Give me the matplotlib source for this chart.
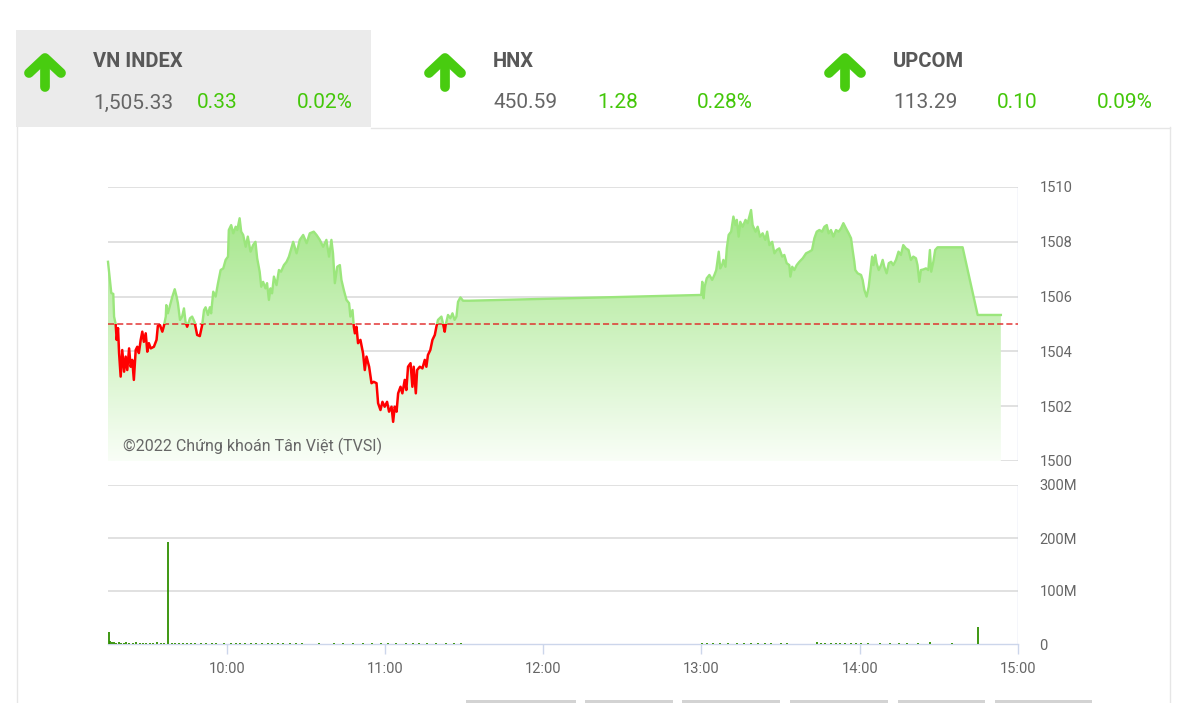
import matplotlib
matplotlib.use("Agg")
import matplotlib.pyplot as plt
import numpy as np
from matplotlib.patches import Rectangle, Polygon
from matplotlib.colors import LinearSegmentedColormap

# --- index summary (header) ---
index_names = ["VN INDEX", "HNX", "UPCOM"]
index_values = ["1,505.33", "450.59", "113.29"]
index_changes = ["0.33", "1.28", "0.10"]
index_pcts = ["0.02%", "0.28%", "0.09%"]

ref_price = 1505.00

# --- intraday VN-Index, minutes after 09:00 ---
price_minutes = [
    15.0, 16.25, 17.0, 17.3, 17.9, 18.3, 18.8, 19.2, 19.8, 20.4, 21.1, 21.7, 22.3, 23.0,
    23.6, 24.2, 24.8, 25.5, 26.1, 26.7, 27.4, 28.0, 28.6, 29.3, 29.9, 30.5, 31.2, 32.4,
    33.4, 33.9, 34.7, 35.6, 36.2, 36.9, 37.1, 37.7, 38.75, 39.4, 40.3, 41.0, 41.5, 42.3,
    43.1, 43.8, 44.4, 45.0, 46.1, 46.9, 47.8, 48.8, 49.8, 50.7, 51.4, 52.0, 52.9, 53.6,
    54.1, 54.9, 55.8, 56.7, 57.7, 58.7, 59.6, 60.5, 60.8, 61.7, 62.5, 63.4, 64.0, 64.9,
    65.5, 66.25, 67.2, 68.0, 69.05, 70.0, 70.9, 71.55, 72.5, 73.1, 73.8, 74.7, 75.3, 76.0,
    76.6, 77.2, 77.9, 78.9, 79.8, 80.6, 81.7, 82.7, 83.6,
    85.2, 86.5, 87.7, 89.0, 90.3, 91.5, 93.0, 94.05, 95.3, 96.55, 97.8, 98.8, 99.7, 100.3,
    101.0, 101.9, 102.9, 103.5, 104.4, 105.4, 106.4, 106.9, 107.7, 108.2, 108.6, 109.2,
    109.8, 110.7, 111.7, 112.35, 113.0, 114.0, 114.9, 115.75, 116.8, 117.4, 118.3, 119.05,
    119.9, 120.8, 121.55, 122.5, 123.1, 123.7, 124.4, 125.0, 125.9, 126.6, 127.5, 128.1,
    128.75, 129.7, 130.4, 130.9, 131.7, 132.2, 133.2, 134.2, 135.1, 135.7, 136.3, 137.2,
    138.0, 138.9, 139.5, 140.1, 141.4, 142.0, 142.65, 143.0, 143.9, 144.8, 145.6, 146.4,
    147.1, 147.7, 148.6, 149.6, 152.1,
    239.9, 240.3, 240.8, 241.2, 242.0, 243.0, 244.05, 244.9, 245.6, 246.55, 247.1, 247.8,
    248.3, 249.1, 249.6, 250.3, 251.25, 252.1, 252.9, 253.4, 254.1, 254.7, 255.6, 256.7,
    257.5, 258.8, 259.4, 260.5, 261.3, 262.2, 263.2, 264.2, 264.9, 265.75, 266.8, 267.65,
    268.5, 269.5, 270.6, 271.4, 272.3, 273.3, 273.7, 274.4, 275.2, 276.1, 277.1, 278.4,
    279.65, 280.9, 281.9, 282.8, 283.7, 284.7, 285.7, 286.6, 287.5, 288.2, 289.1, 290.0,
    291.0, 292.0, 292.9, 293.8, 294.8, 295.8, 296.7, 297.3, 297.95, 298.3, 299.2, 300.5,
    301.1, 301.75, 302.6, 303.4, 303.9, 304.7, 305.2, 305.9, 306.4, 307.2, 308.1, 308.7,
    309.3, 310.2, 311.0, 311.9, 312.7, 313.75, 314.7, 315.6, 316.5, 317.5, 318.5, 319.4,
    320.3, 321.3, 321.9, 322.6, 323.2, 324.1, 325.1, 326.0, 326.6, 327.1, 327.9, 328.6,
    329.5, 339.0, 344.7, 353.5,
]
price_values = [
    1507.27, 1506.13, 1506.10, 1505.27, 1505.00, 1504.42, 1504.85, 1503.94, 1503.08, 1504.05,
    1503.26, 1503.81, 1503.32, 1504.11, 1503.44, 1503.69, 1502.96, 1504.05, 1504.17, 1503.94,
    1504.42, 1504.72, 1504.35, 1504.66, 1503.99, 1504.30, 1504.11, 1504.17, 1504.42, 1504.93,
    1504.96, 1504.72, 1504.93, 1505.27, 1505.69, 1505.39, 1505.76, 1506.00, 1506.27, 1506.00,
    1505.76, 1505.15, 1505.27, 1505.57, 1505.08, 1504.90, 1505.21, 1505.27, 1505.08, 1504.60,
    1504.56, 1504.96, 1505.51, 1505.61, 1505.33, 1505.61, 1505.39, 1506.18, 1506.00, 1506.49,
    1506.97, 1507.03, 1507.34, 1507.46, 1508.43, 1508.61, 1508.31, 1508.55, 1508.43, 1508.86,
    1508.37, 1508.25, 1507.82, 1508.19, 1507.64, 1507.88, 1508.00, 1507.40, 1506.91, 1506.36,
    1506.54, 1506.30, 1506.49, 1505.88, 1506.30, 1506.12, 1506.73, 1506.42, 1506.97, 1506.91,
    1507.15, 1507.27, 1507.46,
    1508.00, 1507.58, 1508.07, 1508.25, 1507.95, 1508.31, 1508.37, 1508.25, 1508.07, 1507.82,
    1508.07, 1507.46, 1508.07, 1507.58, 1506.49, 1507.09, 1507.15, 1506.61, 1506.24, 1505.88,
    1505.76, 1505.27, 1505.51, 1504.90, 1504.66, 1504.90, 1504.30, 1504.42, 1503.93, 1503.32,
    1503.81, 1503.44, 1502.84, 1502.89, 1502.84, 1502.11, 1501.86, 1502.16, 1501.98, 1502.16,
    1501.80, 1501.98, 1501.43, 1501.98, 1501.80, 1502.47, 1502.71, 1502.47, 1502.96, 1502.59,
    1503.44, 1503.57, 1502.71, 1503.44, 1502.47, 1503.32, 1503.44, 1503.38, 1503.69, 1503.44,
    1503.87, 1504.05, 1504.42, 1504.60, 1504.90, 1505.15, 1505.27, 1505.02, 1504.72, 1504.96,
    1505.33, 1505.21, 1505.39, 1505.15, 1505.27, 1505.81, 1505.97, 1505.85, 1505.85,
    1506.06, 1506.54, 1505.94, 1506.36, 1506.67, 1506.79, 1506.61, 1506.79, 1506.97, 1507.64,
    1507.03, 1507.15, 1507.34, 1507.09, 1507.76, 1508.25, 1508.37, 1508.92, 1508.61, 1508.80,
    1508.19, 1508.73, 1508.55, 1508.80, 1508.68, 1509.16, 1508.61, 1508.37, 1508.55, 1508.19,
    1508.31, 1508.07, 1508.37, 1507.88, 1508.00, 1507.58, 1507.70, 1507.76, 1507.46, 1507.52,
    1507.22, 1507.15, 1506.73, 1507.09, 1506.97, 1507.15, 1507.27, 1507.40, 1507.58, 1507.64,
    1507.70, 1508.13, 1508.37, 1508.43, 1508.37, 1508.55, 1508.61, 1508.31, 1508.43, 1508.19,
    1508.43, 1508.37, 1508.49, 1508.68, 1508.49, 1508.31, 1508.13, 1507.70, 1507.27, 1506.97,
    1506.85, 1506.79, 1506.61, 1506.24, 1506.00, 1506.36, 1506.79, 1507.46, 1507.15, 1507.52,
    1507.22, 1506.97, 1507.15, 1507.34, 1507.09, 1506.85, 1507.22, 1507.27, 1507.15, 1507.34,
    1507.64, 1507.52, 1507.88, 1507.76, 1507.70, 1507.34, 1507.46, 1507.40, 1507.15, 1506.54,
    1506.97, 1506.99, 1507.03, 1506.97, 1507.70, 1506.91, 1507.27, 1507.70, 1507.80, 1507.80,
    1505.33, 1505.33,
]

# --- matched volume (millions of shares) ---
vol_minutes = [
    15.2, 15.8, 16.5, 17.3, 18.1, 19.0, 19.8, 20.9, 22.0, 23.1, 24.3, 25.6, 27.0, 28.3,
    29.5, 31.0, 32.2, 33.6, 35.0, 36.4, 37.7, 39.2, 40.5, 42.0, 43.5, 45.0, 46.6, 48.0,
    50.4, 52.0, 54.3, 56.1, 59.0, 61.6, 63.5, 65.2, 67.0, 69.2, 71.0, 73.4, 75.6, 77.0,
    79.3, 81.5, 84.0, 86.2, 88.4, 95.0, 100.5, 104.0, 107.8, 111.5, 115.2, 118.6, 121.0,
    124.3, 127.9, 130.5, 133.0, 136.0, 139.4, 143.0, 146.2, 149.0,
    240.3, 242.0, 244.5, 247.0, 250.2, 253.5, 256.0, 258.6, 261.3, 264.0, 266.5, 270.0,
    272.5, 283.8, 285.5, 287.0, 289.0, 291.0, 292.5, 294.5, 296.5, 298.5, 300.5, 303.0,
    307.5, 311.5, 315.0, 318.0, 322.0, 326.5, 335.0, 345.0,
]
vol_millions = [
    23, 6, 3, 4, 2, 3, 2, 2, 3, 2, 2, 3, 2, 2,
    2, 2, 2, 3, 2, 2, 193, 2, 2, 2, 2, 2, 2, 2,
    2, 2, 2, 2, 2, 2, 2, 2, 2, 2, 2, 2, 2, 2,
    2, 2, 2, 2, 2, 2, 2, 2, 2, 2, 2, 2, 2,
    2, 2, 2, 2, 2, 2, 2, 2, 2,
    2, 2, 2, 2, 2, 2, 2, 2, 2, 2, 2, 2,
    2, 3, 2, 2, 2, 2, 2, 2, 2, 2, 2, 2,
    2, 2, 2, 2, 2, 3, 2, 32,
]

hour_ticks = [60, 120, 180, 240, 300, 360]
hour_labels = ["10:00", "11:00", "12:00", "13:00", "14:00", "15:00"]

W, H = 1192, 703
GREEN_TXT = "#44c70a"
GRAY_TXT = "#666666"
AXIS_BLUE = "#ccd6eb"
GRID = "#d9d9d9"
plt.rcParams["font.family"] = ["Roboto", "DejaVu Sans"]


def px_axes(fig, x0, y0, x1, y1, **kw):
    return fig.add_axes([x0 / W, 1 - y1 / H, (x1 - x0) / W, (y1 - y0) / H], **kw)


fig = plt.figure(figsize=(W / 100, H / 100), dpi=100)
fig.patch.set_facecolor("white")

# background / header layer in pixel coordinates
bg = px_axes(fig, 0, 0, W, H, zorder=0)
bg.set_xlim(0, W)
bg.set_ylim(H, 0)
bg.axis("off")
bg.add_patch(Rectangle((16, 30), 355, 97, facecolor="#ebebeb", edgecolor="none"))
bg.plot([371, 1170], [127.5, 127.5], color="#e6e6e6", lw=1)
bg.plot([16.5, 16.5], [127, H], color="#e6e6e6", lw=1)
bg.plot([1169.5, 1169.5], [127, H], color="#e6e6e6", lw=1)
for bx0, bx1 in [(466, 576), (585, 673), (682, 780), (790, 888), (898, 985), (995, 1092)]:
    bg.add_patch(Rectangle((bx0, 700), bx1 - bx0, 4, facecolor="#d3d3d3", edgecolor="none"))

for i, name in enumerate(index_names):
    ox = 400 * i
    cx = 45 + ox
    # up arrow
    bg.plot([cx, cx], [87, 60], color="#48cc10", lw=7, solid_capstyle="round")
    bg.plot([cx - 16, cx, cx + 16], [73, 58, 73], color="#48cc10", lw=7,
            solid_capstyle="round", solid_joinstyle="round")
    bg.text(93 + ox, 67, name, fontsize=14.5, fontweight="bold", color="#585858", va="baseline")
    bg.text(93 + ox, 108.5, index_values[i], fontsize=15, color=GRAY_TXT, va="baseline")
    bg.text(197 + ox, 108.5, index_changes[i], fontsize=15, color=GREEN_TXT, va="baseline")
    bg.text(353 + ox, 108.5, index_pcts[i], fontsize=15, color=GREEN_TXT, va="baseline", ha="right")

# --- price chart ---
ax = px_axes(fig, 108, 187, 1018, 461, zorder=2)
ax.set_facecolor("none")
t = np.array(price_minutes)
v = np.array(price_values)

poly = Polygon([(t[0], 1500)] + list(zip(t, v)) + [(t[-1], 1500)], closed=True,
               facecolor="none", edgecolor="none", transform=ax.transData)
ax.add_patch(poly)
grad = np.linspace(0, 1, 256).reshape(-1, 1)
cmap = LinearSegmentedColormap.from_list("fade", ["#f9fef7", "#9ce47f"])
im = ax.imshow(grad, extent=[15, 360, 1500, 1510], origin="lower", aspect="auto",
               cmap=cmap, zorder=1, interpolation="bilinear")
im.set_clip_path(poly)

for yv in range(1500, 1511, 2):
    ax.axhline(yv, color=GRID, lw=1.1, zorder=0.5)
ax.axvline(360, color=AXIS_BLUE, lw=1, zorder=0.6)
ax.axhline(ref_price, color="#e02020", lw=1.1, dashes=(4, 2), alpha=0.9, zorder=2)

up, = ax.plot(t, v, color="#9be67c", lw=1.7, zorder=3)
up.set_clip_path(Rectangle((0, ref_price), 400, 20, transform=ax.transData))
dn, = ax.plot(t, v, color="#ff0000", lw=1.8, zorder=3)
dn.set_clip_path(Rectangle((0, 1490), 400, ref_price - 1490, transform=ax.transData))

ax.set_xlim(15, 360)
ax.set_ylim(1500, 1510)
for s in ax.spines.values():
    s.set_visible(False)
ax.set_xticks([])
ax.yaxis.tick_right()
ax.set_yticks(range(1500, 1511, 2))
ax.tick_params(axis="y", length=0, pad=15.5, labelsize=10.5, labelcolor=GRAY_TXT)
ax.text(0.017, 0.035, "\u00a92022 Chứng khoán Tân Việt (TVSI)", transform=ax.transAxes,
        fontsize=11.5, color=GRAY_TXT, va="baseline", zorder=4)

# --- volume chart ---
axv = px_axes(fig, 108, 485, 1018, 644, zorder=2)
axv.set_facecolor("none")
for yv in (100, 200, 300):
    axv.axhline(yv, color=GRID, lw=1.1, zorder=0.5)
axv.axvline(360, color=AXIS_BLUE, lw=1, zorder=0.6)
axv.vlines(vol_minutes, 0, vol_millions, color="#2f8f00", lw=1.3, zorder=3)
axv.set_xlim(15, 360)
axv.set_ylim(0, 300)
for k, s in axv.spines.items():
    s.set_visible(k == "bottom")
axv.spines["bottom"].set_color(AXIS_BLUE)
axv.spines["bottom"].set_linewidth(1)
axv.set_xticks(hour_ticks)
axv.set_xticklabels(hour_labels)
axv.tick_params(axis="x", length=7, width=1, color=AXIS_BLUE, pad=6,
                labelsize=10.5, labelcolor=GRAY_TXT)
axv.yaxis.tick_right()
axv.set_yticks([0, 100, 200, 300])
axv.set_yticklabels(["0", "100M", "200M", "300M"])
axv.tick_params(axis="y", length=0, pad=15.5, labelsize=10.5, labelcolor=GRAY_TXT)

fig.savefig("out.png", dpi=100, facecolor="white")
